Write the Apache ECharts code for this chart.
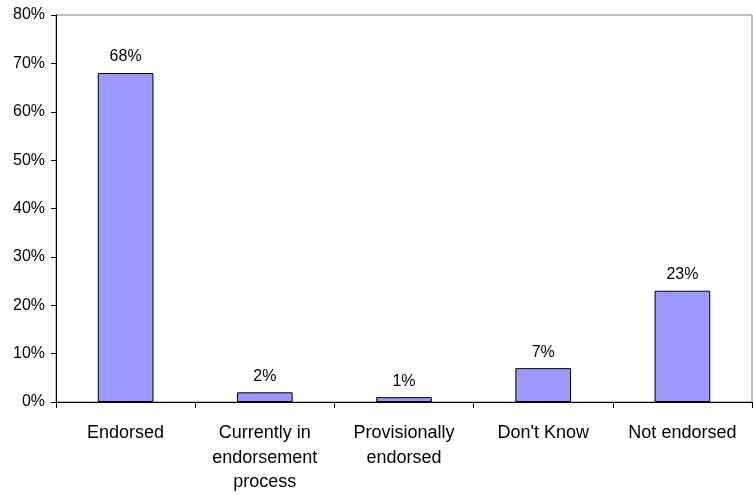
<!DOCTYPE html>
<html>
<head>
<meta charset="utf-8">
<script src="https://cdn.jsdelivr.net/npm/echarts@6/dist/echarts.min.js"></script>
<style>html,body{margin:0;padding:0;background:#fff}#c{width:753px;height:495px}</style>
</head>
<body>
<div id="c"></div>
<script>
var categories = ["Endorsed", "Currently in\nendorsement\nprocess", "Provisionally\nendorsed", "Don't Know", "Not endorsed"];
var values = [68, 2, 1, 7, 23];
var yTicks = [0, 10, 20, 30, 40, 50, 60, 70, 80];

var chart = echarts.init(document.getElementById('c'), null, {renderer: 'canvas'});
chart.setOption({
  animation: false,
  backgroundColor: '#ffffff',
  textStyle: {fontFamily: 'Liberation Sans, Arial, sans-serif'},
  grid: {left: 56, right: 1, top: 15, bottom: 93, show: true, borderColor: '#808080', borderWidth: 1, backgroundColor: 'transparent'},
  xAxis: {
    type: 'category',
    data: categories,
    axisLine: {show: true, lineStyle: {color: '#000', width: 1}},
    axisTick: {show: true, alignWithLabel: false, length: 6, lineStyle: {color: '#000'}},
    axisLabel: {color: '#000', fontSize: 18, lineHeight: 24.5, margin: 19, interval: 0, fontFamily: 'Liberation Sans'},
    splitLine: {show: false}
  },
  yAxis: {
    type: 'value',
    min: yTicks[0],
    max: yTicks[yTicks.length - 1],
    interval: 10,
    axisLine: {show: true, lineStyle: {color: '#000', width: 1}},
    axisTick: {show: true, length: 5, lineStyle: {color: '#000'}},
    axisLabel: {color: '#000', fontSize: 16, margin: 11, formatter: function (v) { return v + '%'; }, fontFamily: 'Liberation Sans'},
    splitLine: {show: false}
  },
  series: [{
    type: 'bar',
    data: values,
    barWidth: '40%',
    itemStyle: {color: '#9999FF', borderColor: '#000', borderWidth: 1},
    label: {show: true, position: 'top', distance: 8, color: '#000', fontSize: 16, formatter: function (p) { return p.value + '%'; }, fontFamily: 'Liberation Sans'}
  }]
});
</script>
</body>
</html>
